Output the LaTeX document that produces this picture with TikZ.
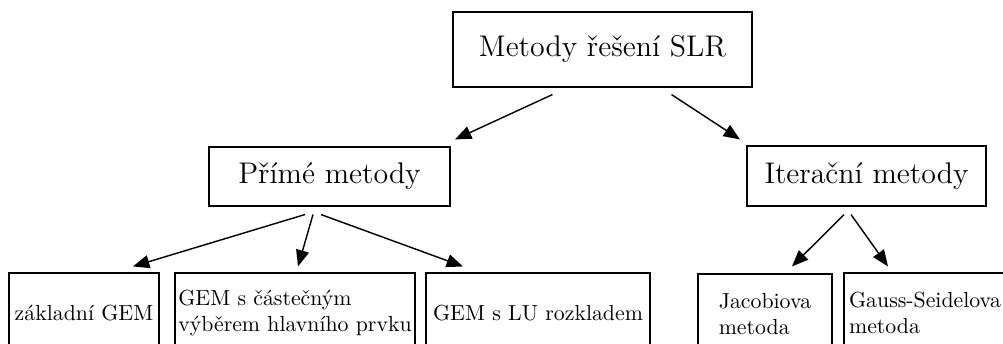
\documentclass[tikz,border=0pt]{standalone}
\usepackage{fontspec}
\usetikzlibrary{arrows.meta,calc}
\def\pxu{0.4587pt}
\tikzset{
  bigbox/.style={draw, line width=0.5pt, inner sep=0pt, font=\fontsize{13.7}{16}\selectfont},
  leafbox/.style={draw, line width=0.5pt, inner sep=0pt, align=left, minimum height=80*\pxu},
  arr/.style={line width=0.65pt, -{Triangle[length=7.5pt,width=6pt]}}
}
\begin{document}
\begin{tikzpicture}[x=0.4587pt,y=-0.4587pt]
\useasboundingbox (0,0) rectangle (1003,344);
\clip (0,0) rectangle (1003,344);
\node[bigbox, minimum width=299*\pxu, minimum height=75*\pxu] (top) at (602.5,49.5) {Metody řešení SLR};
\node[bigbox, minimum width=241*\pxu, minimum height=59*\pxu] (prime) at (329.5,176.5) {Přímé metody};
\node[bigbox, minimum width=239*\pxu, minimum height=60*\pxu] (iter) at (866.5,176) {Iterační metody};
\node[leafbox, minimum width=150*\pxu] (b1) at (84,313) {základní GEM};
\node[leafbox, minimum width=240*\pxu] (b2) at (295,313) {GEM s částečným\\výběrem hlavního prvku};
\node[leafbox, minimum width=224*\pxu] (b3) at (538,313) {GEM s LU rozkladem};
\node[leafbox, minimum width=134*\pxu] (b4) at (765,314) {Jacobiova\\metoda};
\node[leafbox, minimum width=162*\pxu] (b5) at (925,313) {Gauss-Seidelova\\metoda};
\draw[arr] ($(top.south)+(-50,7)$) -- ($(prime.north)+(125.5,-7)$);
\draw[arr] ($(top.south)+(69,7)$) -- ($(iter.north)+(-126.5,-6)$);
\draw[arr] ($(prime.south)+(-24.5,8)$) -- ($(b1.north)+(49,-6)$);
\draw[arr] ($(prime.south)+(-16.5,8)$) -- ($(b2.north)+(3,-6)$);
\draw[arr] ($(prime.south)+(-8.5,8)$) -- ($(b3.north)+(-75,-6)$);
\draw[arr] ($(iter.south)+(-22.5,8)$) -- ($(b4.north)+(27,-7)$);
\draw[arr] ($(iter.south)+(-15.5,8)$) -- ($(b5.north)+(-37,-6)$);
\end{tikzpicture}
\end{document}
